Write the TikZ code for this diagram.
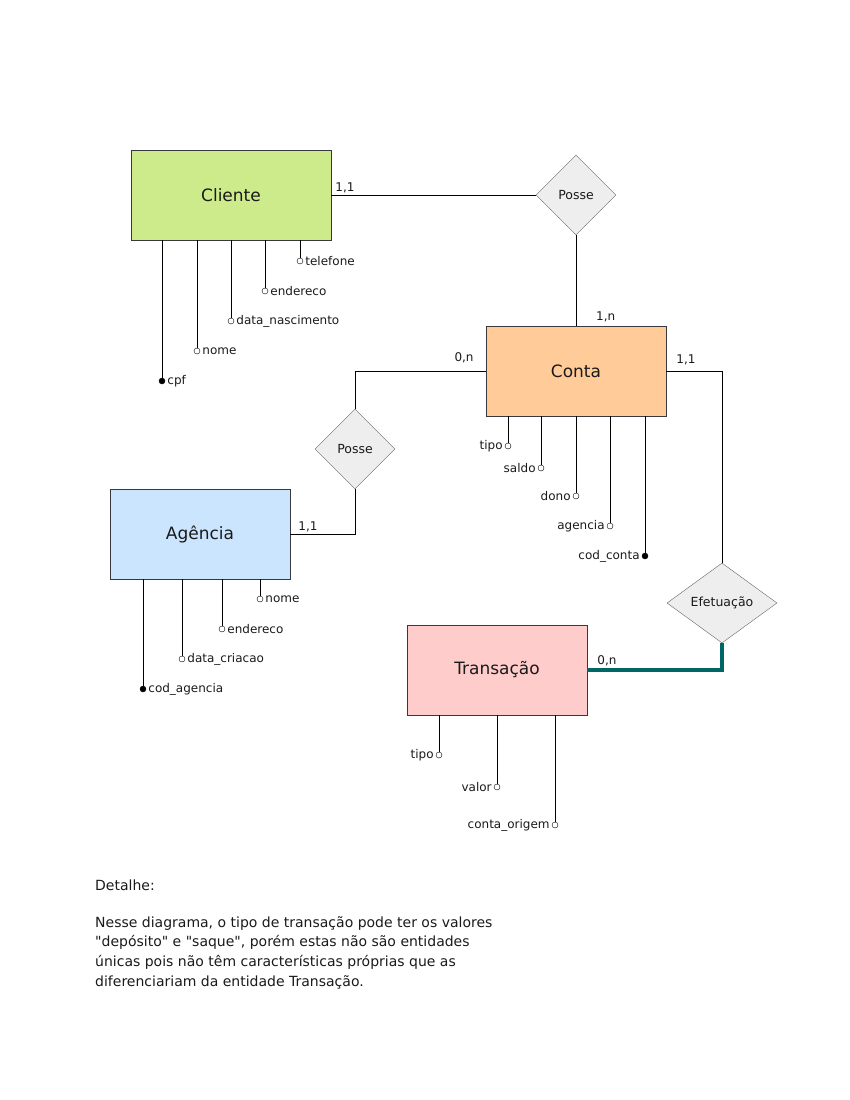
\documentclass[tikz,border=0pt]{standalone}
\usepackage{fontspec}
\setmainfont{DejaVu Sans}
\newfontfamily\notefont{DejaVu Sans}
\usetikzlibrary{shapes.geometric}

\definecolor{clientefill}{HTML}{CDEB8B}
\definecolor{contafill}{HTML}{FFCC99}
\definecolor{agenciafill}{HTML}{CCE5FF}
\definecolor{transfill}{HTML}{FFCCCC}
\definecolor{relfill}{HTML}{EEEEEE}
\definecolor{relline}{HTML}{666666}
\definecolor{entline}{HTML}{36393D}
\definecolor{textgray}{HTML}{1A1A1A}
\definecolor{tealline}{HTML}{006666}

\begin{document}
\begin{tikzpicture}[x=1pt, y=-1pt,
    entity/.style={draw=entline, rectangle, minimum width=180pt, minimum height=90pt,
        font=\fontsize{17}{20}\selectfont, text=textgray},
    relation/.style={draw=relline, fill=relfill, diamond, minimum width=80pt,
        minimum height=80pt, inner sep=0pt, font=\fontsize{12.5}{15}\selectfont, text=textgray},
    attr/.style={draw, circle, fill=white, inner sep=0pt, minimum size=6pt, label distance=2pt},
    pkattr/.style={attr, fill=black},
    card/.style={font=\fontsize{12}{14}\selectfont, text=textgray, inner sep=2pt},
    every label/.style={font=\fontsize{12}{14}\selectfont, text=textgray, inner sep=2pt}]

    \useasboundingbox (0,0) rectangle (850,1100);

    % Entities
    \node[entity, fill=clientefill, minimum width=200pt] (cli) at (231,195) {Cliente};
    \node[entity, fill=contafill] (conta) at (576,371) {Conta};
    \node[entity, fill=agenciafill] (ag) at (200,534) {Agência};
    \node[entity, fill=transfill] (trans) at (497,670) {Transação};

    % Relationships
    \node[relation] (posse1) at (576,195) {Posse};
    \node[relation] (posse2) at (355,449) {Posse};
    \node[relation, minimum width=110pt] (efet) at (722,603) {Efetuação};

    % Connections with cardinalities
    \draw (cli) -- (posse1) node[card, pos=0, above right, xshift=2pt] {1,1};
    \draw (posse1) -- (conta) node[card, pos=1, above right, xshift=18pt, yshift=2pt] {1,n};
    \draw (conta) -| (posse2) node[card, pos=0, above left, xshift=-10pt, yshift=6pt] {0,n};
    \draw (posse2) |- (ag) node[card, pos=1, above right, xshift=6pt] {1,1};
    \draw (conta) -| (efet) node[card, pos=0, above right, xshift=8pt, yshift=4pt] {1,1};
    \draw[tealline, line width=4.5pt] (efet) |- (trans) node[card, pos=1, above right, xshift=6pt] {0,n};

    % Attributes of Cliente
    \node[pkattr, label=right:cpf] (cpf) at (162,381) {};
    \node[attr, label=right:nome] (cnome) at (197,351) {};
    \node[attr, label=right:data\_nascimento] (cnasc) at (231,321) {};
    \node[attr, label=right:endereco] (cend) at (265,291) {};
    \node[attr, label=right:telefone] (ctel) at (300,261) {};
    \foreach \a in {cpf,cnome,cnasc,cend,ctel}
        \draw (cli.south -| \a) -- (\a);

    % Attributes of Conta
    \node[attr, label=left:tipo] (ktipo) at (508,446) {};
    \node[attr, label=left:saldo] (ksaldo) at (541,468) {};
    \node[attr, label=left:dono] (kdono) at (576,496) {};
    \node[attr, label=left:agencia] (kag) at (610,526) {};
    \node[pkattr, label=left:cod\_conta] (kcod) at (645,556) {};
    \foreach \a in {ktipo,ksaldo,kdono,kag,kcod}
        \draw (conta.south -| \a) -- (\a);

    % Attributes of Agencia
    \node[pkattr, label=right:cod\_agencia] (acod) at (143,689) {};
    \node[attr, label=right:data\_criacao] (adata) at (182,659) {};
    \node[attr, label=right:endereco] (aend) at (222,629) {};
    \node[attr, label=right:nome] (anome) at (260,599) {};
    \foreach \a in {acod,adata,aend,anome}
        \draw (ag.south -| \a) -- (\a);

    % Attributes of Transacao
    \node[attr, label=left:tipo] (ttipo) at (439,755) {};
    \node[attr, label=left:valor] (tvalor) at (497,787) {};
    \node[attr, label=left:conta\_origem] (torig) at (555,825) {};
    \foreach \a in {ttipo,tvalor,torig}
        \draw (trans.south -| \a) -- (\a);

    % Note
    \node[anchor=north west, align=left, inner sep=0pt, text=textgray,
        font=\notefont\fontsize{14}{19.7}\selectfont] (nota) at (95,880)
        {Detalhe:\\[16.6pt]
         Nesse diagrama, o tipo de transação pode ter os valores\\
         "depósito" e "saque", porém estas não são entidades\\
         únicas pois não têm características próprias que as\\
         diferenciariam da entidade Transação.};

\end{tikzpicture}
\end{document}
